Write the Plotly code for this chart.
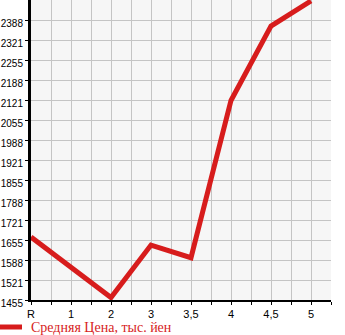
import plotly.graph_objects as go

categories = ["R", "1", "2", "3", "3,5", "4", "4,5", "5"]
prices = [1665, None, 1463, 1638, 1596, 2120, 2368, 2452]
series_name = "Средняя Цена, тыс. йен"

y_min = 1455
y_step = 1000 / 15
y_ticks = [y_min + y_step * k for k in range(15)]
y_labels = [str(int(v + 1e-6)) for v in y_ticks]

x_pos = list(range(len(categories)))
RED = "#d71c1c"

fig = go.Figure()
fig.add_trace(go.Scatter(
    x=x_pos, y=prices, mode="lines", name=series_name,
    connectgaps=True, showlegend=False,
    line=dict(color=RED, width=5),
))

PW, PH = 300, 300  # plot area pixels
fig.add_shape(type="line", xref="paper", yref="paper",
              x0=-31 / PW, x1=-9 / PW, y0=-27 / PH, y1=-27 / PH,
              line=dict(color=RED, width=5))
fig.add_annotation(text=series_name, xref="paper", yref="paper",
                   x=-2 / PW, y=-27 / PH, xanchor="left", yanchor="middle",
                   showarrow=False,
                   font=dict(family="Liberation Serif", size=14, color=RED))

fig.update_layout(
    width=345, height=335,
    margin=dict(l=31, r=14, t=0, b=35, autoexpand=False),
    paper_bgcolor="white",
    plot_bgcolor="#f6f6f6",
    showlegend=False,
    xaxis=dict(
        range=[0, 7.5], automargin=False,
        tickvals=x_pos, ticktext=categories,
        showgrid=True, gridcolor="#c4c4c4", gridwidth=1,
        ticks="outside", ticklen=3, tickcolor="black",
        minor=dict(dtick=0.5, tick0=0, showgrid=True, gridcolor="#c4c4c4",
                   ticks="outside", ticklen=3, tickcolor="black"),
        showline=True, linecolor="black", linewidth=2,
        zeroline=False, ticklabelstandoff=0,
        tickfont=dict(family="Liberation Sans", size=11, color="black"),
    ),
    yaxis=dict(
        range=[y_min, y_min + 1000], automargin=False,
        tickvals=y_ticks, ticktext=y_labels,
        showgrid=True, gridcolor="#c4c4c4", gridwidth=1,
        ticks="outside", ticklen=3, tickcolor="black",
        showline=True, linecolor="black", linewidth=3,
        zeroline=False,
        ticklabelshift=3, ticklabelstandoff=0,
        tickfont=dict(family="Liberation Sans", size=10, color="black"),
    ),
)

fig.write_html("out.html")
